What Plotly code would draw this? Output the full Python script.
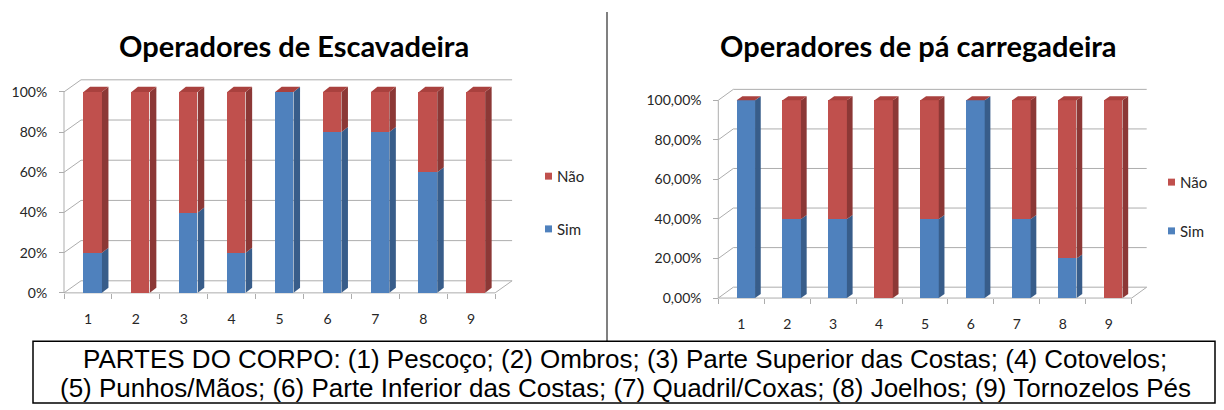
import plotly.graph_objects as go

# ---------------- data ----------------
categories = ["1", "2", "3", "4", "5", "6", "7", "8", "9"]
esc_sim = [20, 0, 40, 20, 100, 80, 80, 60, 0]
esc_nao = [80, 100, 60, 80, 0, 20, 20, 40, 100]
pa_sim = [100, 40, 40, 0, 40, 100, 40, 20, 0]
pa_nao = [0, 60, 60, 100, 60, 0, 60, 80, 100]
tick_vals = [0, 20, 40, 60, 80, 100]
esc_tick_text = ["0%", "20%", "40%", "60%", "80%", "100%"]
pa_tick_text = ["0,00%", "20,00%", "40,00%", "60,00%", "80,00%", "100,00%"]
series_names = ["Sim", "Não"]
titles = ["Operadores de Escavadeira", "Operadores de pá carregadeira"]
caption_lines = [
    "PARTES DO CORPO: (1) Pescoço; (2) Ombros; (3) Parte Superior das Costas; (4) Cotovelos;",
    "(5) Punhos/Mãos; (6) Parte Inferior das Costas; (7) Quadril/Coxas; (8) Joelhos; (9) Tornozelos Pés",
]

# ---------------- style / geometry ----------------
# the page body has an 8px margin, so the figure is placed at (8, 8)
OX, OY = 8, 8
SCREEN_H = 410
FW, FH = 1216, 402
SIM, SIM_SIDE = "#4F81BD", "#385D8A"
NAO, NAO_SIDE, NAO_TOP = "#C0504D", "#8C3836", "#A9413E"
GRID = "#ADADAD"
FONT = "Lato"
TXT = "#262626"


def fx(px):
    return (px - OX) / FW


def fy(py):
    return (SCREEN_H - py) / FH


panels = [
    dict(sim=esc_sim, nao=esc_nao, ticks=esc_tick_text, title=titles[0], title_x=294,
         ax0=64, cat=47.9, y0=294.3, ppv=2.02, wall_dx=0.355, wall_dy=6.0,
         side_dx=0.136, side_dy=2.5, off=-0.092, bw=0.384,
         leg_x=545, leg_y=(177, 230), xa="x", ya="y"),
    dict(sim=pa_sim, nao=pa_nao, ticks=pa_tick_text, title=titles[1], title_x=918,
         ax0=718.3, cat=45.93, y0=299.5, ppv=1.988, wall_dx=0.327, wall_dy=5.5,
         side_dx=0.124, side_dy=2.0, off=-0.1, bw=0.4,
         leg_x=1168, leg_y=(183, 232), xa="x2", ya="y2"),
]

fig = go.Figure()
shapes = []
annotations = []
layout_axes = {}

for i, p in enumerate(panels):
    xa, ya = p["xa"], p["ya"]
    n = len(categories)
    # bars (front faces)
    fig.add_trace(go.Bar(x=categories, y=p["sim"], name=series_names[0], marker_color=SIM,
                         marker_line_width=0, width=p["bw"], offset=p["off"],
                         xaxis=xa, yaxis=ya, showlegend=False))
    fig.add_trace(go.Bar(x=categories, y=p["nao"], base=p["sim"], name=series_names[1],
                         marker_color=NAO, marker_line_width=0, width=p["bw"], offset=p["off"],
                         xaxis=xa, yaxis=ya, showlegend=False))

    xr0, xr1 = -0.7, n - 0.5 + p["wall_dx"] + 0.1
    yr0, yr1 = -3, 108
    px = lambda v, p=p: p["ax0"] + (v + 0.5) * p["cat"]
    py = lambda v, p=p: p["y0"] - v * p["ppv"]
    xd = [fx(px(xr0)), fx(px(xr1))]
    yd = [fy(py(yr0)), fy(py(yr1))]
    suffix = "" if i == 0 else "2"
    layout_axes["xaxis" + suffix] = dict(
        type="category", range=[xr0, xr1], domain=xd, anchor="free",
        position=fy(p["y0"]), showgrid=False, zeroline=False, showline=False,
        ticks="outside", tickson="boundaries", ticklen=5, tickcolor=GRID,
        ticklabelstandoff=16, tickfont=dict(family=FONT, size=14, color=TXT))
    layout_axes["yaxis" + suffix] = dict(
        range=[yr0, yr1], domain=yd, anchor="free", position=fx(p["ax0"]),
        showgrid=False, zeroline=False, showline=False, tickvals=tick_vals,
        ticktext=p["ticks"], ticks="outside", ticklen=5, tickcolor=GRID,
        ticklabelstandoff=9, tickfont=dict(family=FONT, size=14, color=TXT))

    # walls / gridlines
    x_front0, x_front1 = -0.5, n - 0.5
    wdx, wdy = p["wall_dx"], p["wall_dy"]
    line = dict(color=GRID, width=1)
    for v in tick_vals:
        shapes.append(dict(type="path", xref=xa, yref=ya, layer="below", line=line,
                           path=f"M{x_front0},{v} L{x_front0 + wdx},{v + wdy} L{x_front1 + wdx},{v + wdy}"))
    # front axis lines and floor
    shapes.append(dict(type="line", xref=xa, yref=ya, layer="below", line=line,
                       x0=x_front0, x1=x_front0, y0=0, y1=tick_vals[-1]))
    shapes.append(dict(type="path", xref=xa, yref=ya, layer="below", line=line,
                       path=f"M{x_front0},0 L{x_front1},0 L{x_front1 + wdx},{wdy}"))

    # 3D side and top faces of the bars
    sdx, sdy = p["side_dx"], p["side_dy"]
    for k in range(n):
        xl = k + p["off"]
        xr = xl + p["bw"]
        segs = [(0, p["sim"][k], SIM_SIDE), (p["sim"][k], p["sim"][k] + p["nao"][k], NAO_SIDE)]
        for y0, y1, col in segs:
            if y1 > y0:
                shapes.append(dict(type="path", xref=xa, yref=ya, layer="above",
                                   fillcolor=col, line=dict(width=0),
                                   path=f"M{xr},{y0} L{xr + sdx},{y0 + sdy} L{xr + sdx},{y1 + sdy} L{xr},{y1} Z"))
        top = p["sim"][k] + p["nao"][k]
        shapes.append(dict(type="path", xref=xa, yref=ya, layer="above",
                           fillcolor=NAO_TOP, line=dict(width=0),
                           path=f"M{xl},{top} L{xr},{top} L{xr + sdx},{top + sdy} L{xl + sdx},{top + sdy} Z"))

    # title
    annotations.append(dict(text=f"<b>{p['title']}</b>", xref="paper", yref="paper",
                            x=fx(p["title_x"]), y=fy(46), showarrow=False,
                            xanchor="center", yanchor="middle",
                            font=dict(family=FONT, size=29, color="black")))
    # legend (Não above Sim)
    for name, col, yy in [(series_names[1], NAO, p["leg_y"][0]), (series_names[0], SIM, p["leg_y"][1])]:
        shapes.append(dict(type="rect", xref="paper", yref="paper", fillcolor=col,
                           line=dict(width=0), x0=fx(p["leg_x"]), x1=fx(p["leg_x"] + 7),
                           y0=fy(yy + 3.5), y1=fy(yy - 3.5)))
        annotations.append(dict(text=name, xref="paper", yref="paper",
                                x=fx(p["leg_x"] + 10), y=fy(yy), showarrow=False,
                                xanchor="left", yanchor="middle",
                                font=dict(family=FONT, size=15, color=TXT)))

# separator line
shapes.append(dict(type="line", xref="paper", yref="paper", x0=fx(607), x1=fx(607),
                   y0=fy(343), y1=fy(12), line=dict(color="#808080", width=2)))
# caption box
shapes.append(dict(type="rect", xref="paper", yref="paper", x0=fx(33), x1=fx(1215),
                   y0=fy(405), y1=fy(343), line=dict(color="black", width=1.5)))
for line_txt, yy in zip(caption_lines, [361, 390]):
    annotations.append(dict(text=line_txt, xref="paper", yref="paper", x=fx(625),
                            y=fy(yy), showarrow=False, xanchor="center", yanchor="middle",
                            font=dict(family="Liberation Sans", size=26, color="black")))

fig.update_layout(width=FW, height=FH, margin=dict(l=0, r=0, t=0, b=0),
                  paper_bgcolor="white", plot_bgcolor="rgba(0,0,0,0)",
                  barmode="overlay", bargap=0, showlegend=False,
                  shapes=shapes, annotations=annotations, **layout_axes)

fig.write_html("out.html")
